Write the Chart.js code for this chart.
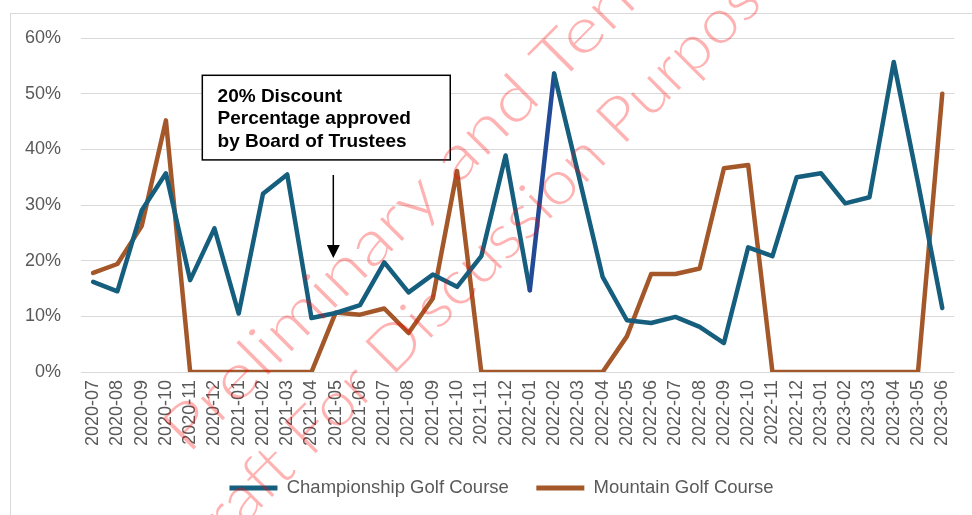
<!DOCTYPE html>
<html>
<head>
<meta charset="utf-8">
<script src="https://cdn.jsdelivr.net/npm/chart.js@4.4.1/dist/chart.umd.min.js"></script>
<style>
  html, body { margin: 0; padding: 0; background: #fff; }
  #wrap { width: 972px; height: 515px; position: relative; }
</style>
</head>
<body>
<div id="wrap"><canvas id="myChart"></canvas></div>
<script>
// chart data
const months = [
  '2020-07','2020-08','2020-09','2020-10','2020-11','2020-12',
  '2021-01','2021-02','2021-03','2021-04','2021-05','2021-06',
  '2021-07','2021-08','2021-09','2021-10','2021-11','2021-12',
  '2022-01','2022-02','2022-03','2022-04','2022-05','2022-06',
  '2022-07','2022-08','2022-09','2022-10','2022-11','2022-12',
  '2023-01','2023-02','2023-03','2023-04','2023-05','2023-06'
];
const championship = [16.2, 14.5, 29.0, 35.7, 16.5, 25.8, 10.5, 32.0, 35.5, 9.7, 10.6, 12.0,
                      19.7, 14.3, 17.5, 15.3, 20.8, 38.9, 14.7, 53.6, 35.5, 17.1, 9.3, 8.8,
                      9.9, 8.1, 5.2, 22.4, 20.8, 35.0, 35.7, 30.3, 31.4, 55.7, 34.0, 11.5];
const mountain = [17.8, 19.4, 26.2, 45.2, 0, 0, 0, 0, 0, 0, 10.7, 10.3,
                  11.4, 7.0, 13.2, 36.1, 0, 0, 0, 0, 0, 0, 6.4, 17.6,
                  17.6, 18.6, 36.6, 37.2, 0, 0, 0, 0, 0, 0, 0, 50.0];
const noteLines = ['20% Discount', 'Percentage approved', 'by Board of Trustees'];

const BLUE = '#165E7D';
const DARK_BLUE = '#234A96';
const BROWN = '#A4582A';
const TEXT = '#595959';
const GRID = '#D9D9D9';

// frame, annotation box and arrow
const notePlugin = {
  id: 'note',
  afterLayout(chart) {
    // legend sits a bit right of centre in the original
    chart.legend.left += 20;
    chart.legend.right += 20;
  },
  beforeDatasetsDraw(chart) {
    const {ctx, scales: {x, y}} = chart;
    ctx.save();
    ctx.strokeStyle = GRID;
    ctx.lineWidth = 1;
    ctx.strokeRect(10.5, 13.5, 1000, 600);

    const L = x.getPixelForValue(4.5), R = x.getPixelForValue(14.72);
    const T = y.getPixelForValue(53.3), B = y.getPixelForValue(38.1);
    ctx.fillStyle = '#fff';
    ctx.fillRect(L, T, R - L, B - T);
    ctx.strokeStyle = '#000';
    ctx.lineWidth = 1.5;
    ctx.strokeRect(L, T, R - L, B - T);

    ctx.fillStyle = '#000';
    ctx.font = 'bold 19px "Liberation Sans", Arial, sans-serif';
    ctx.textBaseline = 'alphabetic';
    const tx = x.getPixelForValue(5.13);
    [48.5, 44.5, 40.4].forEach((v, i) => ctx.fillText(noteLines[i], tx, y.getPixelForValue(v)));

    // arrow
    const ax = x.getPixelForValue(9.9);
    const top = y.getPixelForValue(35.4), tip = y.getPixelForValue(20.5);
    ctx.lineWidth = 1.5;
    ctx.beginPath();
    ctx.moveTo(ax, top);
    ctx.lineTo(ax, tip - 10);
    ctx.stroke();
    ctx.beginPath();
    ctx.moveTo(ax - 6.5, tip - 13);
    ctx.lineTo(ax + 6.5, tip - 13);
    ctx.lineTo(ax, tip);
    ctx.closePath();
    ctx.fill();
    ctx.restore();
  }
};

// draft watermark
const watermark = {
  id: 'watermark',
  afterDraw(chart) {
    const ctx = chart.ctx;
    ctx.save();
    ctx.font = '300 62px Lato, "DejaVu Sans", sans-serif';
    ctx.fillStyle = 'rgba(255, 0, 0, 0.3)';
    ctx.textBaseline = 'alphabetic';

    ctx.save();
    ctx.translate(188, 455);
    ctx.rotate(-Math.PI / 4);
    ctx.scale(1.22, 1);
    ctx.fillText('Preliminary and Tentative', 0, 0);
    ctx.restore();

    ctx.save();
    ctx.translate(622, 147);
    ctx.rotate(-Math.PI / 4);
    ctx.scale(1.08, 1);
    const off = ctx.measureText('Draft For Discussion ').width;
    ctx.fillText('Draft For Discussion Purposes', -off, 0);
    ctx.restore();
    ctx.restore();
  }
};

const ctx = document.getElementById('myChart').getContext('2d');
const myChart = new Chart(ctx, {
  type: 'line',
  data: {
    labels: months,
    datasets: [{
      label: 'Championship Golf Course',
      data: championship,
      borderColor: BLUE,
      backgroundColor: BLUE,
      borderWidth: 4.5,
      pointRadius: 0,
      tension: 0,
      borderJoinStyle: 'round',
      borderCapStyle: 'round',
      segment: {
        borderColor: c => c.p0DataIndex === 18 ? DARK_BLUE : undefined
      }
    }, {
      label: 'Mountain Golf Course',
      data: mountain,
      borderColor: BROWN,
      backgroundColor: BROWN,
      borderWidth: 4.5,
      pointRadius: 0,
      tension: 0,
      borderJoinStyle: 'round',
      borderCapStyle: 'round'
    }]
  },
  options: {
    responsive: true,
    maintainAspectRatio: false,
    animation: false,
    layout: { padding: { top: 38, left: 0, right: 9, bottom: 7.75 } },
    scales: {
      x: {
        offset: true,
        grid: { display: false, drawTicks: false },
        border: { display: false },
        ticks: {
          autoSkip: false,
          maxRotation: 90,
          minRotation: 90,
          padding: 8,
          color: TEXT,
          font: { family: '"Liberation Sans", Arial, sans-serif', size: 18 }
        },
        afterFit: s => { s.height = 79.25; }
      },
      y: {
        min: 0,
        max: 60,
        grid: { color: GRID, lineWidth: 1, drawTicks: false },
        border: { display: false },
        ticks: {
          stepSize: 10,
          padding: 20,
          color: TEXT,
          font: { family: '"Liberation Sans", Arial, sans-serif', size: 18 },
          callback: v => v + '%'
        },
        afterFit: s => { s.width = 81; }
      }
    },
    plugins: {
      tooltip: { enabled: false },
      legend: {
        position: 'bottom',
        labels: {
          boxWidth: 48,
          boxHeight: 5,
          padding: 27.5,
          color: TEXT,
          font: { family: '"Liberation Sans", Arial, sans-serif', size: 18.5 },
          generateLabels: chart => Chart.defaults.plugins.legend.labels.generateLabels(chart)
            .map(l => Object.assign(l, { lineWidth: 0 }))
        }
      }
    }
  },
  plugins: [notePlugin, watermark]
});
</script>
</body>
</html>
